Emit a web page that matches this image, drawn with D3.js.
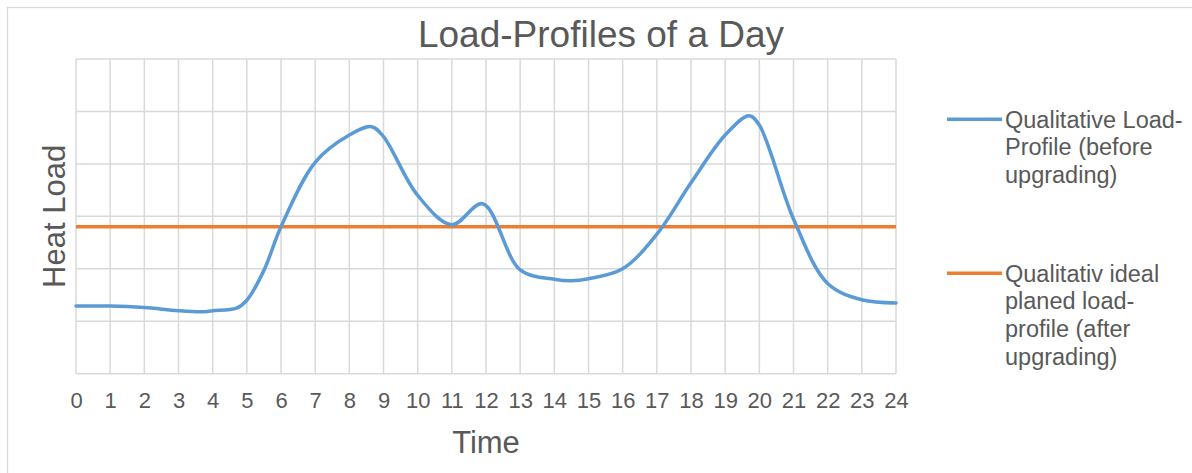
<!DOCTYPE html>
<html>
<head>
<meta charset="utf-8">
<script src="https://cdn.jsdelivr.net/npm/d3@7"></script>
<style>
  body { margin: 0; background: #fff; }
  text { font-family: Arial, "Liberation Sans", sans-serif; fill: #595959; }
</style>
</head>
<body>
<div id="chart"></div>
<script>
// hour of day and qualitative heat load
var hours = [0, 1, 2, 3, 3.7, 4, 4.7, 5, 5.5, 6, 7, 8, 8.65, 9, 10, 11, 11.9, 13, 14, 14.5, 15, 16, 17, 18, 19, 19.7, 20, 21, 22, 23, 24];
var loadBefore = [1.29, 1.29, 1.26, 1.2, 1.18, 1.2, 1.25, 1.4, 1.97, 2.8, 4.03, 4.55, 4.71, 4.52, 3.4, 2.84, 3.24, 1.98, 1.8, 1.77, 1.81, 2.0, 2.66, 3.64, 4.55, 4.92, 4.74, 2.95, 1.72, 1.41, 1.35];
var idealHours = [0, 24];
var idealLoad = [2.8, 2.8];
var tickLabels = d3.range(0, 25);
var yGrid = [0, 1, 2, 3, 4, 5, 6];
var seriesNames = [
  ["Qualitative Load-", "Profile (before", "upgrading)"],
  ["Qualitativ ideal", "planed load-", "profile (after", "upgrading)"]
];
var seriesColors = ["#5b9bd5", "#ed7d31"];

var W = 1192, H = 473;
var margin = { top: 59, right: 296, bottom: 99.3, left: 76 };
var width = W - margin.left - margin.right,
  height = H - margin.top - margin.bottom;

var svg = d3.select("#chart").append("svg").attr("width", W).attr("height", H);

// chart border
svg.append("rect")
  .attr("x", 7.5).attr("y", 7.5)
  .attr("width", 1200).attr("height", 480)
  .attr("fill", "none").attr("stroke", "#d9d9d9").attr("stroke-width", 1.3);

var g = svg.append("g").attr("transform", "translate(" + margin.left + "," + margin.top + ")");

var x = d3.scaleLinear().domain([0, 24]).range([0, width]);
var y = d3.scaleLinear().domain([0, 6]).range([height, 0]);

// grid
g.append("g").selectAll("line.v")
  .data(tickLabels)
  .enter().append("line")
  .attr("x1", function (d) { return x(d); })
  .attr("x2", function (d) { return x(d); })
  .attr("y1", 0).attr("y2", height)
  .attr("stroke", "#d9d9d9").attr("stroke-width", 1.5);

g.append("g").selectAll("line.h")
  .data(yGrid)
  .enter().append("line")
  .attr("x1", 0).attr("x2", width)
  .attr("y1", function (d) { return y(d); })
  .attr("y2", function (d) { return y(d); })
  .attr("stroke", "#d9d9d9").attr("stroke-width", 1.5);

// x axis labels
var xAxis = d3.axisBottom(x).tickValues(tickLabels).tickSize(0).tickPadding(19);
var ax = g.append("g").attr("transform", "translate(0," + height + ")").call(xAxis);
ax.select(".domain").remove();
ax.selectAll("text")
  .style("font-size", "22px")
  .attr("fill", "#595959")
  .style("font-family", "Arial, 'Liberation Sans', sans-serif");

// lines
var line = d3.line()
  .x(function (d) { return x(d[0]); })
  .y(function (d) { return y(d[1]); })
  .curve(d3.curveCatmullRom.alpha(0.5));

g.append("path")
  .datum(idealHours.map(function (h, i) { return [h, idealLoad[i]]; }))
  .attr("d", line)
  .attr("fill", "none").attr("stroke", seriesColors[1]).attr("stroke-width", 3.5);

g.append("path")
  .datum(hours.map(function (h, i) { return [h, loadBefore[i]]; }))
  .attr("d", line)
  .attr("fill", "none").attr("stroke", seriesColors[0]).attr("stroke-width", 3.5)
  .attr("stroke-linejoin", "round").attr("stroke-linecap", "round");

// titles
svg.append("text")
  .attr("x", 601).attr("y", 47)
  .attr("text-anchor", "middle")
  .style("font-size", "37px")
  .text("Load-Profiles of a Day");

svg.append("text")
  .attr("x", margin.left + width / 2).attr("y", 453)
  .attr("text-anchor", "middle")
  .style("font-size", "31px")
  .text("Time");

svg.append("text")
  .attr("transform", "translate(65," + (margin.top + height / 2) + ") rotate(-90)")
  .attr("text-anchor", "middle")
  .style("font-size", "31px")
  .text("Heat Load");

// legend
var legendTop = [119.3, 273.3];
var legend = svg.append("g");
seriesNames.forEach(function (lines, i) {
  var ly = legendTop[i];
  legend.append("line")
    .attr("x1", 947).attr("x2", 1002)
    .attr("y1", ly).attr("y2", ly)
    .attr("stroke", seriesColors[i]).attr("stroke-width", 3.5);
  var t = legend.append("text")
    .attr("x", 1005).attr("y", ly + 8.5)
    .style("font-size", "23.5px");
  lines.forEach(function (s, j) {
    t.append("tspan").attr("x", 1005).attr("dy", j === 0 ? 0 : 27.6).text(s);
  });
});
</script>
</body>
</html>
